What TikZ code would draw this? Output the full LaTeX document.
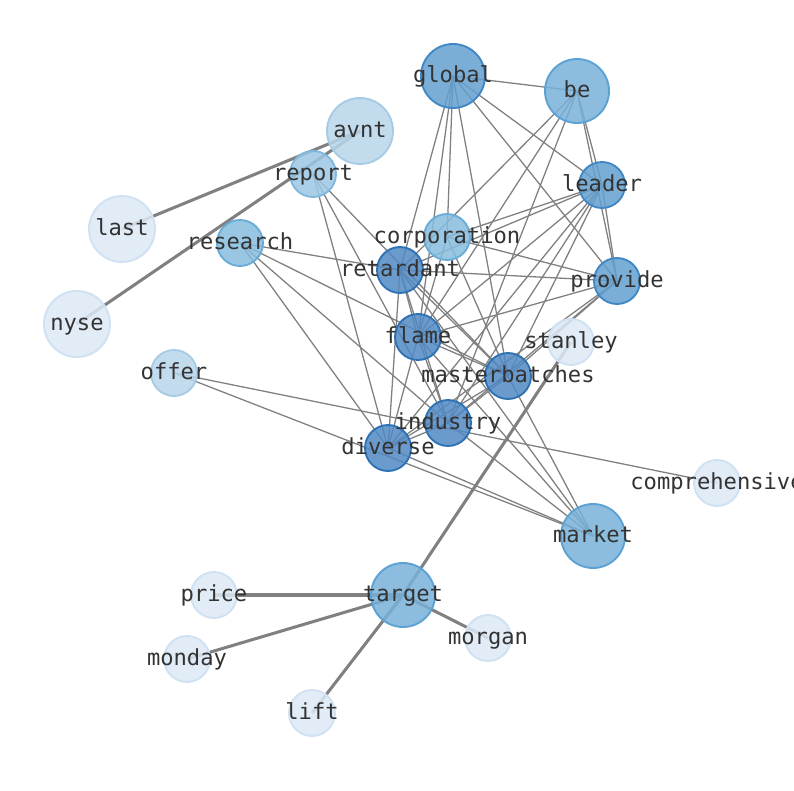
\documentclass[tikz,border=0pt]{standalone}
\usepackage{fontspec}
\setmonofont{DejaVu Sans Mono}
\usepackage{tikz}

\definecolor{edgegray}{HTML}{808080}
\definecolor{txt}{HTML}{333333}
\definecolor{cA}{HTML}{DCE9F6}\definecolor{bA}{HTML}{CFE1F2}
\definecolor{cB}{HTML}{B8D6EA}\definecolor{bB}{HTML}{A6CCE5}
\definecolor{cC}{HTML}{9CC7E4}\definecolor{bC}{HTML}{7FB7DD}
\definecolor{cD}{HTML}{86BCDE}\definecolor{bD}{HTML}{68ACD8}
\definecolor{cE}{HTML}{78B1D8}\definecolor{bE}{HTML}{5BA1D3}
\definecolor{cF}{HTML}{64A0CF}\definecolor{bF}{HTML}{3F88C5}
\definecolor{cG}{HTML}{5189C3}\definecolor{bG}{HTML}{2D72B4}

\tikzset{thinedge/.style={draw=edgegray, line width=1.1pt},
  thickedge/.style={draw=edgegray, line width=2.6pt},
  lbl/.style={font=\ttfamily\fontsize{18.9}{20}\selectfont, text=txt, inner sep=0pt,
    text height=0.72em, text depth=0.2em, yshift=-0.11cm}}

\begin{document}
\begin{tikzpicture}[x=0.03cm,y=-0.03cm]
\useasboundingbox (0,0) rectangle (794,790);
% positions
\coordinate (global) at (453,76);
\coordinate (be) at (577,91);
\coordinate (avnt) at (360,131);
\coordinate (report) at (313,174);
\coordinate (last) at (122,229);
\coordinate (research) at (240,243);
\coordinate (corporation) at (447,237);
\coordinate (leader) at (602,185);
\coordinate (retardant) at (400,270);
\coordinate (provide) at (617,281);
\coordinate (nyse) at (77,324);
\coordinate (flame) at (418,337);
\coordinate (stanley) at (571,342);
\coordinate (offer) at (174,373);
\coordinate (masterbatches) at (508,376);
\coordinate (industry) at (448,423);
\coordinate (diverse) at (388,448);
\coordinate (comprehensive) at (717,483);
\coordinate (market) at (593,536);
\coordinate (target) at (403,595);
\coordinate (price) at (214,595);
\coordinate (morgan) at (488,638);
\coordinate (monday) at (187,659);
\coordinate (lift) at (312,713);

% edges
\foreach \a/\b in {global/be, global/leader, global/provide, global/retardant, global/flame,
  global/corporation, global/masterbatches,
  be/leader, be/provide, be/retardant, be/flame, be/industry,
  leader/provide, leader/corporation, leader/retardant, leader/flame, leader/masterbatches,
  leader/diverse, leader/industry,
  provide/corporation, provide/retardant, provide/flame, provide/masterbatches,
  provide/industry, provide/diverse,
  corporation/flame, corporation/masterbatches,
  retardant/flame, retardant/masterbatches, retardant/industry, retardant/diverse,
  flame/masterbatches, flame/industry, flame/diverse,
  masterbatches/industry, masterbatches/diverse, industry/diverse,
  research/retardant, research/masterbatches, research/industry, research/diverse,
  report/masterbatches, report/industry, report/diverse,
  market/retardant, market/flame, market/masterbatches, market/industry, market/diverse,
  offer/market, offer/comprehensive}
  \draw[thinedge] (\a) -- (\b);
\foreach \a/\b in {avnt/last, avnt/nyse, target/price, target/monday, target/morgan,
  target/lift, target/stanley}
  \draw[thickedge] (\a) -- (\b);

% vertices
\foreach \n/\r/\c in {global/32/F, be/32/E, avnt/33/B, report/23/C, last/33/A,
  research/23/D, corporation/23/D, leader/23/F, retardant/23/G, provide/23/F,
  nyse/33/A, flame/23/G, stanley/23/A, offer/23/B, masterbatches/23/G,
  industry/23/G, diverse/23/G, comprehensive/23/A, market/32/E, target/32/E,
  price/23/A, morgan/23/A, monday/23/A, lift/23/A}
  \filldraw[fill=c\c, draw=b\c, fill opacity=0.85, line width=1.6pt] (\n) circle ({\r*0.03cm});

% labels
\foreach \n in {global, be, avnt, report, last, research, corporation, leader, retardant,
  provide, nyse, flame, stanley, offer, masterbatches, industry, diverse, comprehensive,
  market, target, price, morgan, monday, lift}
  \node[lbl] (\n-txt) at (\n) {\n};
\end{tikzpicture}
\end{document}
